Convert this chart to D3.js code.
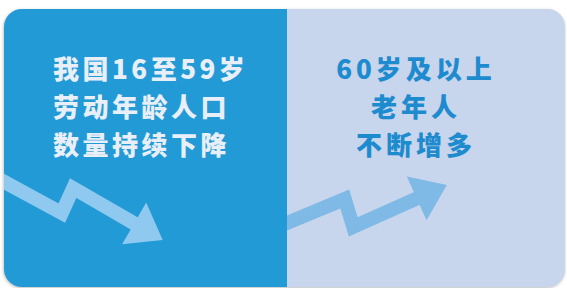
<!DOCTYPE html>
<html><head><meta charset="utf-8">
<script src="https://cdn.jsdelivr.net/npm/d3@7"></script>
<style>html,body{margin:0;padding:0;background:#fff;overflow:hidden}</style>
</head><body>
<svg id="c" width="567" height="288"></svg>
<script>
// ---- data ----
const panelKeys = ["working", "elderly"];
const leftLines = ["我国16至59岁", "劳动年龄人口", "数量持续下降"];
const rightLines = ["60岁及以上", "老年人", "不断增多"];
// trend arrows (abstract units, 0-100)
const downX = [-1.8, 10.9, 12.9, 28.7];
const downY = [39.6, 26.0, 34.7, 16.7];
const upX = [47.6, 60.8, 62.3, 78.8];
const upY = [20.1, 30.9, 21.2, 35.8];

// ---- layout ----
const W = 567, H = 288;
const card = {x0: 4, x1: 565, y0: 9, y1: 287, r: 18};
const svg = d3.select("#c");
const x = d3.scaleLinear().domain([0, 100]).range([0, W]);
const y = d3.scaleLinear().domain([0, 100]).range([H, 0]);
const band = d3.scaleBand().domain(panelKeys).range([card.x0, 570]).padding(0);
const lineY = d3.scalePoint().domain(d3.range(3)).range([67, 143]);

const defs = svg.append("defs");
const f = defs.append("filter").attr("id", "sh").attr("x", "-5%").attr("y", "-5%").attr("width", "110%").attr("height", "115%");
f.append("feDropShadow").attr("dx", -0.5).attr("dy", 1).attr("stdDeviation", 1.6).attr("flood-color", "#888").attr("flood-opacity", 0.6);
defs.append("clipPath").attr("id", "cardClip").append("rect")
  .attr("x", card.x0).attr("y", card.y0).attr("width", card.x1 - card.x0).attr("height", card.y1 - card.y0)
  .attr("rx", card.r).attr("ry", card.r);

svg.append("rect").attr("x", card.x0).attr("y", card.y0).attr("width", card.x1 - card.x0).attr("height", card.y1 - card.y0)
  .attr("rx", card.r).attr("fill", "#c7d5ed").attr("filter", "url(#sh)");

const g = svg.append("g").attr("clip-path", "url(#cardClip)");
const colors = {working: "#229ad5", elderly: "#c7d5ed"};

function arrow(parent, xs, ys, color) {
  const pts = xs.map((v, i) => [x(v), y(ys[i])]);
  const tip = pts[pts.length - 1], prev = pts[pts.length - 2];
  const dx = tip[0] - prev[0], dy = tip[1] - prev[1];
  const len = Math.hypot(dx, dy), ux = dx / len, uy = dy / len;
  const headL = 33, headW = 24;
  const base = [tip[0] - ux * headL, tip[1] - uy * headL];
  const shaft = pts.slice(0, -1).concat([[base[0] + ux * 4, base[1] + uy * 4]]);
  parent.append("path").attr("d", d3.line()(shaft)).attr("fill", "none")
    .attr("stroke", color).attr("stroke-width", 14).attr("stroke-linejoin", "miter").attr("stroke-miterlimit", 10);
  const head = [tip, [base[0] - uy * headW, base[1] + ux * headW], [base[0] + uy * headW, base[1] - ux * headW]];
  parent.append("path").attr("d", d3.line()(head) + "Z").attr("fill", color);
}

// right panel
g.append("rect").attr("x", band("elderly")).attr("y", card.y0).attr("width", band.bandwidth()).attr("height", card.y1 - card.y0)
  .attr("fill", colors.elderly);
arrow(g, upX, upY, "#7fb9e6");
// left panel
g.append("rect").attr("x", band("working") - 10).attr("y", card.y0).attr("width", band.bandwidth() + 10).attr("height", card.y1 - card.y0)
  .attr("fill", colors.working);
arrow(g, downX, downY, "#8fc9ef");

const font = "'Noto Sans CJK SC', 'Noto Sans', sans-serif";
function block(lines, tx, anchor, color, spacing) {
  const t = g.append("text").attr("font-family", font).attr("font-weight", 900).attr("font-size", 26)
    .attr("letter-spacing", spacing).attr("fill", color).attr("text-anchor", anchor);
  t.selectAll("tspan").data(lines).join("tspan")
    .attr("x", tx).attr("y", (d, i) => lineY(i)).attr("dominant-baseline", "central").text(d => d);
}
block(leftLines, 53, "start", "#e9eff8", 3.5);
block(rightLines, 416, "middle", "#1d8bcd", 4);
</script>
</body></html>
